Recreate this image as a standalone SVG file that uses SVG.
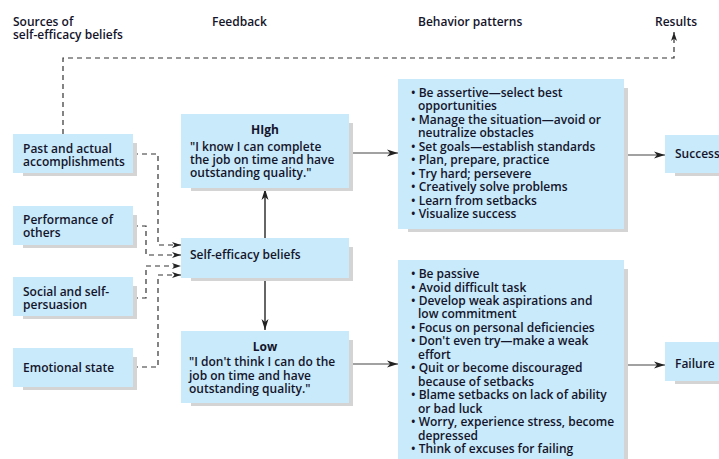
<svg xmlns="http://www.w3.org/2000/svg" width="719" height="459" viewBox="0 0 719 459">
<style>
text{font-family:"Open Sans","Liberation Sans",sans-serif;font-size:12px;font-weight:600;fill:#14142a}
.b{font-weight:bold}
.box{fill:#c8eafb}
.sh{fill:#d4d4d4}
.dash{fill:none;stroke:#333;stroke-width:1.2;stroke-dasharray:5 4}
.solid{fill:none;stroke:#444;stroke-width:1.2}
.grey{fill:none;stroke:#666;stroke-width:2}
</style>
<defs>
<marker id="ah" markerUnits="userSpaceOnUse" markerWidth="12" markerHeight="8" refX="11" refY="4" orient="auto">
<path d="M0,0.5 L11,4 L0,7.5 L3,4 z" fill="#222"/>
</marker>
<marker id="ahs" markerUnits="userSpaceOnUse" markerWidth="10" markerHeight="8" refX="9" refY="4" orient="auto">
<path d="M0,1 L9,4 L0,7 L2.5,4 z" fill="#222"/>
</marker>
</defs>
<rect width="719" height="459" fill="#fff"/>
<g id="headers">
<text x="13" y="26">Sources of</text>
<text x="13" y="39">self-efficacy beliefs</text>
<text x="212" y="26">Feedback</text>
<text x="418" y="26">Behavior patterns</text>
<text x="655" y="26">Results</text>
</g>
<g id="connectors">
<path class="dash" d="M63,134 V58 H674 V32" marker-end="url(#ahs)"/>
<path class="dash" d="M133,154 H158 V245 H181" marker-end="url(#ahs)"/>
<path class="dash" d="M133,226 H146 V255 H181" marker-end="url(#ahs)"/>
<path class="dash" d="M133,298 H146 V266 H181" marker-end="url(#ahs)"/>
<path class="dash" d="M133,367 H158 V275 H181" marker-end="url(#ahs)"/>
<path class="grey" d="M265,238 V189" marker-end="url(#ah)"/>
<path class="grey" d="M265,278 V330" marker-end="url(#ah)"/>
<path class="solid" d="M349,153 H398" marker-end="url(#ah)"/>
<path class="solid" d="M349,364 H398" marker-end="url(#ah)"/>
<path class="solid" d="M624,155 H665" marker-end="url(#ah)"/>
<path class="solid" d="M624,365 H665" marker-end="url(#ah)"/>
</g>
<g id="past">
<rect class="sh" x="23" y="143" width="114" height="33"/>
<rect class="box" x="13" y="134" width="120" height="39"/>
<text x="23" y="153">Past and actual</text>
<text x="23" y="166">accomplishments</text>
</g>
<g id="performance">
<rect class="sh" x="23" y="215" width="114" height="33"/>
<rect class="box" x="13" y="206" width="120" height="39"/>
<text x="23" y="224">Performance of</text>
<text x="23" y="237">others</text>
</g>
<g id="social">
<rect class="sh" x="23" y="286" width="114" height="33"/>
<rect class="box" x="13" y="277" width="120" height="39"/>
<text x="23" y="296">Social and self-</text>
<text x="23" y="309">persuasion</text>
</g>
<g id="emotional">
<rect class="sh" x="23" y="357" width="114" height="33"/>
<rect class="box" x="13" y="348" width="120" height="39"/>
<text x="23" y="372">Emotional state</text>
</g>
<g id="high">
<rect class="sh" x="191" y="123" width="162" height="68"/>
<rect class="box" x="181" y="114" width="168" height="74"/>
<text class="b" x="265" y="134" text-anchor="middle">HIgh</text>
<text x="190" y="151">"I know I can complete</text>
<text x="190" y="164">the job on time and have</text>
<text x="190" y="177">outstanding quality."</text>
</g>
<g id="selfefficacy">
<rect class="sh" x="191" y="247" width="162" height="34"/>
<rect class="box" x="181" y="238" width="168" height="40"/>
<text x="190" y="259">Self-efficacy beliefs</text>
</g>
<g id="low">
<rect class="sh" x="191" y="340" width="162" height="66"/>
<rect class="box" x="181" y="331" width="168" height="72"/>
<text class="b" x="265" y="351" text-anchor="middle">Low</text>
<text x="189" y="366">"I don't think I can do the</text>
<text x="189" y="380">job on time and have</text>
<text x="189" y="393">outstanding quality."</text>
</g>
<g id="behavior-high">
<rect class="sh" x="408" y="88" width="220" height="144"/>
<rect class="box" x="398" y="79" width="226" height="150"/>
<text x="411" y="97">• Be assertive—select best</text>
<text x="418" y="110">opportunities</text>
<text x="411" y="124">• Manage the situation—avoid or</text>
<text x="418" y="137">neutralize obstacles</text>
<text x="411" y="151">• Set goals—establish standards</text>
<text x="411" y="164">• Plan, prepare, practice</text>
<text x="411" y="178">• Try hard; persevere</text>
<text x="411" y="191">• Creatively solve problems</text>
<text x="411" y="205">• Learn from setbacks</text>
<text x="411" y="218">• Visualize success</text>
</g>
<g id="behavior-low">
<rect class="sh" x="408" y="269" width="220" height="200"/>
<rect class="box" x="398" y="260" width="226" height="205"/>
<text x="411" y="278">• Be passive</text>
<text x="411" y="292">• Avoid difficult task</text>
<text x="411" y="305">• Develop weak aspirations and</text>
<text x="418" y="318">low commitment</text>
<text x="411" y="332">• Focus on personal deficiencies</text>
<text x="411" y="345">• Don't even try—make a weak</text>
<text x="418" y="359">effort</text>
<text x="411" y="372">• Quit or become discouraged</text>
<text x="418" y="386">because of setbacks</text>
<text x="411" y="399">• Blame setbacks on lack of ability</text>
<text x="418" y="413">or bad luck</text>
<text x="411" y="426">• Worry, experience stress, become</text>
<text x="418" y="440">depressed</text>
<text x="411" y="453">• Think of excuses for failing</text>
</g>
<g id="success">
<rect class="sh" x="675" y="144" width="60" height="32"/>
<rect class="box" x="665" y="135" width="60" height="38"/>
<text x="675" y="158">Success</text>
</g>
<g id="failure">
<rect class="sh" x="675" y="351" width="60" height="33"/>
<rect class="box" x="665" y="342" width="60" height="39"/>
<text x="675" y="368">Failure</text>
</g>
</svg>
